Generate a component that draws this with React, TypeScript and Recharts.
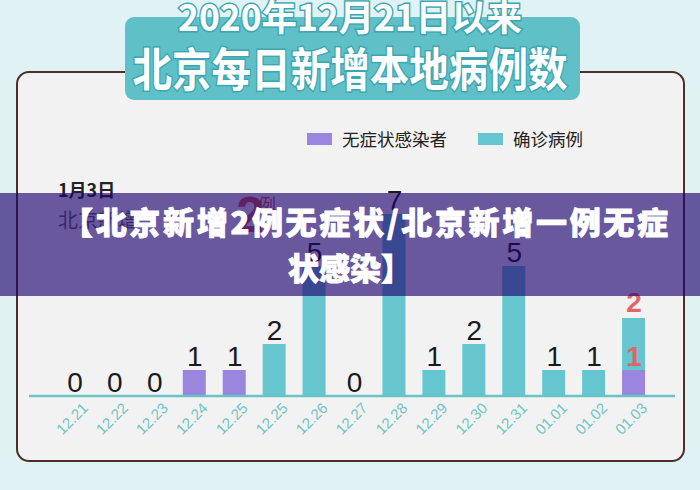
import React from "react"
import { Bar, ComposedChart, Line, XAxis, YAxis, LabelList, Legend } from "recharts"

const categories = ["12.21", "12.22", "12.23", "12.24", "12.25", "12.25", "12.26", "12.27", "12.28", "12.29", "12.30", "12.31", "01.01", "01.02", "01.03"]
const asymptomatic = [0, 0, 0, 1, 1, 0, 0, 0, 0, 0, 0, 0, 0, 0, 1]
const confirmed = [0, 0, 0, 0, 0, 2, 5, 0, 7, 1, 2, 5, 1, 1, 2]
const seriesNames = ["无症状感染者", "确诊病例"]

// days that have both kinds get split red labels instead of one total
const data = categories.map((date, i) => {
  const a = asymptomatic[i]
  const c = confirmed[i]
  const split = a > 0 && c > 0
  return {
    key: i,
    date,
    asym: a,
    conf: c,
    plainTop: split ? null : a + c,
    splitTop: split ? a + c : null,
    splitMid: split ? a : null,
  }
})

const PURPLE = "#9a86de"
const TEAL = "#65c6d0"
const CJK = "'Noto Sans CJK SC', 'Noto Sans', sans-serif"
const NUM = "'Liberation Sans', Arial, sans-serif"

const DateTick = (props: any) => {
  const { x, y, payload } = props
  const tx = x + 14
  const ty = y + 13
  return (
    <text x={tx} y={ty} transform={`rotate(-45 ${tx} ${ty})`} textAnchor="end" fill="#6fc6c4" fontSize={15} fontFamily={NUM}>
      {categories[payload.value]}
    </text>
  )
}

// value: the line's own value (null = no label), text: what to print
const makeLabel = (color: string, weight: number, gap: number, text: (i: number, v: number) => number) => (props: any) => {
  const { x, y, value, index } = props
  if (value == null || typeof y !== "number" || !Number.isFinite(y)) return null
  return (
    <text x={x} y={y - gap} textAnchor="middle" fontFamily={NUM} fontSize={28} fontWeight={weight} fill={color}>
      {text(index, value)}
    </text>
  )
}

const PlainLabel = makeLabel("#1a1a1a", 400, 4, (_i, v) => v)
const RedTopLabel = makeLabel("#e0646a", 700, 6, (i) => confirmed[i])
const RedMidLabel = makeLabel("#e0646a", 700, 4, (_i, v) => v)

const LegendBox = () => (
  <div style={{ position: "relative", height: 0 }}>
    {[PURPLE, TEAL].map((color, i) => (
      <div key={i} style={{ position: "absolute", left: i === 0 ? 307 : 478, top: 126, display: "flex", alignItems: "center", fontFamily: CJK, fontSize: 17.5, color: "#222", whiteSpace: "nowrap" }}>
        <span style={{ display: "inline-block", width: 25, height: 12, background: color, marginRight: 10 }} />
        {seriesNames[i]}
      </div>
    ))}
  </div>
)

export default function App() {
  return (
    <div style={{ position: "absolute", left: 0, top: 0, width: 700, height: 490, overflow: "hidden", background: "#e1f2f5" }}>
      <svg width={700} height={490} style={{ position: "absolute", left: 0, top: 0 }}>
        <rect x={17} y={72} width={667} height={389} rx={12} fill="#f3f2f2" stroke="#4b2f2a" strokeWidth={2} />
        <rect x={125} y={17} width={455} height={83} rx={9} fill="#5fc0c8" />
        <g fontFamily={CJK} fontWeight={700} fill="#fff" stroke="#3ea6b0" strokeWidth={3} paintOrder="stroke" textAnchor="middle">
          <text x={350} y={31} fontSize={36} textLength={344} lengthAdjust="spacingAndGlyphs">2020年12月21日以来</text>
          <text x={350} y={86} fontSize={46} textLength={435} lengthAdjust="spacingAndGlyphs">北京每日新增本地病例数</text>
        </g>
        <text x={58} y={197} fontFamily={CJK} fontWeight={700} fontSize={18} fill="#222">1月3日</text>
        <text x={58} y={228} fontFamily={CJK} fontSize={20} fill="#666">北京新增</text>
        <text x={236} y={232} fontFamily={NUM} fontWeight={700} fontSize={50} fill="#d9534f">2</text>
        <text x={258} y={212} fontFamily={CJK} fontSize={18} fill="#d9534f">例</text>
      </svg>

      <div style={{ position: "absolute", left: 0, top: 0 }}>
        <ComposedChart width={700} height={490} data={data} margin={{ top: 136, right: 25, bottom: 64, left: 29 }}>
          <XAxis
            dataKey="key"
            height={30}
            padding={{ left: 26, right: 21 }}
            axisLine={{ stroke: "#6ac4c4", strokeWidth: 2.5 }}
            tickLine={false}
            tickSize={0}
            tickMargin={0}
            interval={0}
            tick={<DateTick />}
          />
          <YAxis hide domain={[0, 10]} />
          <Legend content={<LegendBox />} wrapperStyle={{ left: 0, top: 0, width: 700 }} />
          <Bar dataKey="asym" name={seriesNames[0]} stackId="a" fill={PURPLE} barSize={23} isAnimationActive={false} />
          <Bar dataKey="conf" name={seriesNames[1]} stackId="a" fill={TEAL} barSize={23} isAnimationActive={false} />
          <Line dataKey="plainTop" stroke="none" dot={false} activeDot={false} legendType="none" isAnimationActive={false}>
            <LabelList dataKey="plainTop" content={<PlainLabel />} />
          </Line>
          <Line dataKey="splitTop" stroke="none" dot={false} activeDot={false} legendType="none" isAnimationActive={false}>
            <LabelList dataKey="splitTop" content={<RedTopLabel />} />
          </Line>
          <Line dataKey="splitMid" stroke="none" dot={false} activeDot={false} legendType="none" isAnimationActive={false}>
            <LabelList dataKey="splitMid" content={<RedMidLabel />} />
          </Line>
        </ComposedChart>
      </div>

      <svg width={700} height={103} style={{ position: "absolute", left: 0, top: 193 }}>
        <rect x={0} y={0} width={700} height={103} fill="rgba(30,5,110,0.65)" />
        <g fontFamily={CJK} fontWeight={900} fontSize={31} fill="#fff" stroke="#fff" strokeWidth={0.8}>
          <text x={62} y={41} textLength={606}>【北京新增2例无症状/北京新增一例无症</text>
          <text x={350} y={87} textAnchor="middle">状感染】</text>
        </g>
      </svg>
    </div>
  )
}
